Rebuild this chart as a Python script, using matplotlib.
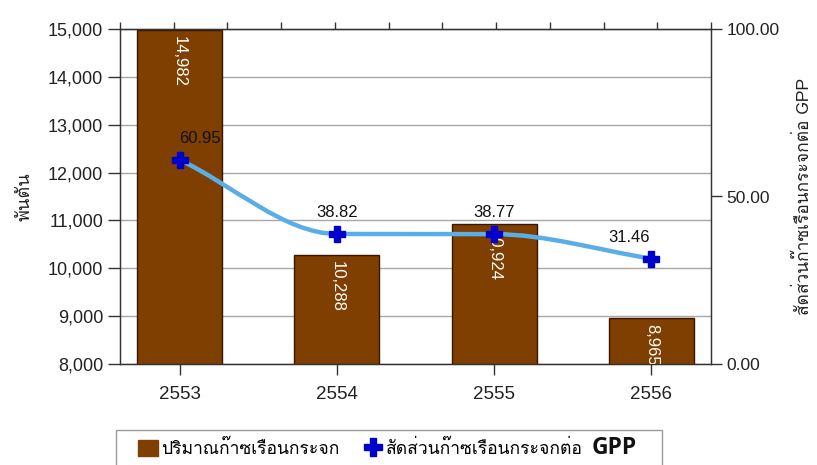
import matplotlib
matplotlib.use("Agg")
import matplotlib.pyplot as plt
from matplotlib import font_manager
from matplotlib.ft2font import FT2Font
from matplotlib.path import Path
from matplotlib.patches import PathPatch, Patch, Rectangle
from matplotlib.lines import Line2D
import numpy as np

years = ["2553", "2554", "2555", "2556"]
emissions = [14982, 10288, 10924, 8965]          # thousand tonnes
share_gpp = [60.95, 38.82, 38.77, 31.46]         # ratio to GPP

left_ticks = [8000, 9000, 10000, 11000, 12000, 13000, 14000, 15000]
right_ticks = [0, 50, 100]

bar_label = "ปริมาณก๊าซเรือนกระจก"
line_label = "สัดส่วนก๊าซเรือนกระจกต่อ"
line_label_tail = "GPP"
left_title = "พันตัน"
right_title = "สัดส่วนก๊าซเรือนกระจกต่อ GPP"


def thai_family():
    seen = set()
    for f in font_manager.fontManager.ttflist:
        if f.name in seen:
            continue
        seen.add(f.name)
        try:
            cmap = FT2Font(f.fname).get_charmap()
        except Exception:
            continue
        if 0x0E01 in cmap and 0x0E2A in cmap:
            return f.name
    return None


thai = thai_family()
num_font = ["Liberation Sans", "DejaVu Sans"]
text_font = ([thai] if thai else []) + ["Liberation Sans", "DejaVu Sans"]
plt.rcParams["font.family"] = num_font

W, H = 817, 465
fig = plt.figure(figsize=(W / 100, H / 100), dpi=100)
ax = fig.add_axes([120 / W, 1 - 364 / H, (711 - 120) / W, (364 - 29) / H])

x = np.arange(len(years))
xlim = (-0.38, len(years) - 1 + 0.38)

bar_color = "#7F3F00"
ax.bar(x, emissions, width=0.54, color=bar_color, edgecolor="#3A1500",
       linewidth=1.0, zorder=2)
ax.set_xlim(*xlim)
ax.set_ylim(left_ticks[0], left_ticks[-1])
ax.set_yticks(left_ticks)
ax.set_yticklabels([f"{v:,}" for v in left_ticks])
ax.set_xticks(x)
ax.set_xticklabels(years)
ax.yaxis.grid(True, color="#A8A8A8", linewidth=1.0, zorder=0)
ax.set_axisbelow(True)

spine_c = "#333333"
for s in ax.spines.values():
    s.set_color(spine_c)
    s.set_linewidth(1.0)
ax.tick_params(axis="y", direction="out", length=9, width=1, color=spine_c,
               labelsize=13, labelcolor="#222222", pad=3)
ax.tick_params(axis="x", direction="out", length=8, width=1, color=spine_c,
               labelsize=13.5, labelcolor="#222222", pad=8)

# value labels inside bars, written top to bottom
for xi, v in zip(x, emissions):
    ax.annotate(f"{v:,}", (xi, v), xytext=(0, -6), textcoords="offset pixels",
                rotation=-90, ha="center", va="top", color="white",
                fontsize=12, zorder=3, annotation_clip=False)

# top edge tick marks
top = ax.secondary_xaxis("top")
top.set_xticks(np.linspace(xlim[0], xlim[1], 12))
top.set_xticklabels([])
top.tick_params(direction="out", length=5, width=1, color=spine_c)
top.spines["top"].set_color(spine_c)

ax.set_ylabel(left_title, family=text_font, fontsize=13, color="#222222",
              labelpad=10)

# secondary axis for the GPP share line
ax2 = ax.twinx()
ax2.set_ylim(right_ticks[0], right_ticks[-1])
ax2.set_yticks(right_ticks)
ax2.set_yticklabels([f"{v:.2f}" for v in right_ticks])
ax2.tick_params(axis="y", direction="out", length=8, width=1, color=spine_c,
                labelsize=12.5, labelcolor="#222222", pad=3)
for s in ax2.spines.values():
    s.set_color(spine_c)
ax2.set_ylabel(right_title, family=text_font, fontsize=12.5, color="#222222",
               rotation=90, labelpad=11)

# monotone cubic connector through the share values (Fritsch-Carlson)
px = np.asarray(x, dtype=float)
py = np.asarray(share_gpp, dtype=float)
h = np.diff(px)
d = np.diff(py) / h
m = np.empty_like(py)
m[0], m[-1] = d[0], d[-1]
for i in range(1, len(py) - 1):
    if d[i - 1] * d[i] <= 0:
        m[i] = 0.0
    else:
        m[i] = 2.0 / (1.0 / d[i - 1] + 1.0 / d[i])
verts = [(px[0], py[0])]
codes = [Path.MOVETO]
for i in range(len(px) - 1):
    c1 = (px[i] + h[i] / 3, py[i] + m[i] * h[i] / 3)
    c2 = (px[i + 1] - h[i] / 3, py[i + 1] - m[i + 1] * h[i] / 3)
    verts += [c1, c2, (px[i + 1], py[i + 1])]
    codes += [Path.CURVE4] * 3
ax2.add_patch(PathPatch(Path(verts, codes), facecolor="none",
                        edgecolor="#5AAEE8", linewidth=3.2, zorder=4,
                        capstyle="round", joinstyle="round"))
ax2.plot(px, py, linestyle="none", marker="P", markersize=12,
         color="#0000CC", markeredgecolor="#0000CC", zorder=5)

offsets = [(20, 14), (0, 14), (0, 14), (-22, 14)]
for xi, v, off in zip(px, py, offsets):
    ax2.annotate(f"{v:.2f}", (xi, v), xytext=off, textcoords="offset pixels",
                 ha="center", va="bottom", fontsize=12, color="#111111",
                 zorder=6)

# legend box running off the lower edge
fig.patches.append(Rectangle((116 / W, -0.05), (662 - 116) / W,
                             1 - 430 / H + 0.05, transform=fig.transFigure,
                             facecolor="white", edgecolor="#9A9A9A",
                             linewidth=1.0, zorder=1))
handles = [
    Patch(facecolor=bar_color, edgecolor=bar_color),
    Line2D([], [], linestyle="none", marker="P", markersize=12.5,
           color="#0000CC"),
]
leg = fig.legend(handles, [bar_label, line_label], loc="upper left",
                 bbox_to_anchor=(138 / W, 1 - 440 / H), ncol=2,
                 frameon=False, prop={"family": text_font, "size": 12.6},
                 handlelength=1.15, handleheight=1.0, handletextpad=0.2,
                 columnspacing=1.3, borderpad=0, borderaxespad=0)
leg.set_zorder(2)

# bold acronym following the second legend entry
fig.canvas.draw()
renderer = fig.canvas.get_renderer()
bb = leg.get_texts()[1].get_window_extent(renderer)
fig.text((bb.x1 + 8) / W, (bb.y0 + bb.y1) / 2 / H + 1 / H, line_label_tail,
         family=["Open Sans", "DejaVu Sans"], weight="bold", fontsize=16.5,
         color="#111111", ha="left", va="center", zorder=3)

fig.savefig("out.png", dpi=100)
